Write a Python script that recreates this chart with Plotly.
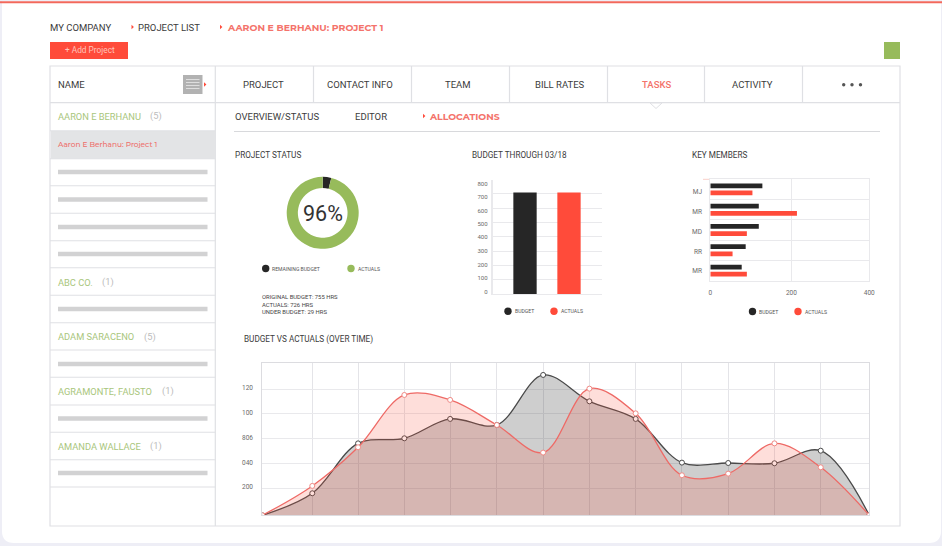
import plotly.graph_objects as go

W, H = 942, 546
# ---------- data ----------
donut_labels = ["REMAINING BUDGET", "ACTUALS"]
donut_values = [29, 726]
bar_cats = ["BUDGET", "ACTUALS"]
bar_values = [710, 710]
bar_tick_text = ["0", "100", "200", "300", "400", "500", "600", "700", "800"]
bar_tick_pos = [19, 112, 205, 300, 398, 491, 584, 677, 772]
bar_grid = [0, 100, 200, 300, 400, 500, 600, 700, 800]
members = ["MJ", "MR", "MD", "RR", "MR"]
member_tick_pos = [0.126, 1.11, 2.09, 3.06, 4.03]
member_budget = [131, 122, 122, 89, 79]
member_actuals = [106, 218, 92, 56, 92]
member_axis_text = ["0", "200", "400"]
member_axis_pos = [0, 204, 400]
time_x = [0, 1.08, 2.07, 3.07, 4.06, 5.07, 6.07, 7.07, 8.07, 9.07, 10.07, 11.07, 12.07, 13.12]
time_budget = [0, 174, 568, 608, 761, 713, 1108, 900, 761, 416, 413, 411, 510, 0]
time_actuals = [0, 232, 537, 950, 911, 713, 495, 1000, 805, 316, 329, 568, 379, 0]
time_tick_text = ["200", "040", "806", "100", "120"]
time_tick_pos = [215, 410, 608, 805, 997]
tabs = ["PROJECT", "CONTACT INFO", "TEAM", "BILL RATES", "TASKS", "ACTIVITY"]
sidebar = [("AARON E BERHANU", "(5)", 116, 150), ("ABC CO.", "(1)", 282, 102),
           ("ADAM SARACENO", "(5)", 336.6, 144), ("AGRAMONTE, FAUSTO", "(1)", 391, 162),
           ("AMANDA WALLACE", "(1)", 446, 150)]

BLACK, RED, GREEN = "#262626", "#ff4b3a", "#97bb5b"
LINE, TXT, TICK = "#dfe0e4", "#3c3c3c", "#6a6a6a"
SOFTRED = "#f4736b"
F = "Roboto"
HEAD = "Montserrat, Lato, 'Open Sans', sans-serif"

def X(p): return p / W
def Y(p): return 1 - p / H

shapes, notes = [], []

def rect(x0, y0, x1, y1, fill=None, line=None, lw=1):
    shapes.append(dict(type="rect", xref="paper", yref="paper", layer="below",
                       x0=X(x0), x1=X(x1), y0=Y(y0), y1=Y(y1),
                       fillcolor=fill or "rgba(0,0,0,0)",
                       line=dict(color=line or "rgba(0,0,0,0)", width=lw if line else 0)))

def hline(x0, x1, y, c=LINE, lw=1):
    shapes.append(dict(type="line", xref="paper", yref="paper", layer="below",
                       x0=X(x0), x1=X(x1), y0=Y(y), y1=Y(y), line=dict(color=c, width=lw)))

def vline(x, y0, y1, c=LINE, lw=1):
    shapes.append(dict(type="line", xref="paper", yref="paper", layer="below",
                       x0=X(x), x1=X(x), y0=Y(y0), y1=Y(y1), line=dict(color=c, width=lw)))

def dot(cx, cy, c, r=3.7):
    shapes.append(dict(type="circle", xref="paper", yref="paper", layer="below",
                       x0=X(cx - r), x1=X(cx + r), y0=Y(cy - r), y1=Y(cy + r),
                       fillcolor=c, line=dict(width=0)))

def tri(x, y, c=RED):
    shapes.append(dict(type="path", xref="paper", yref="paper", layer="below",
                       path=f"M {X(x)} {Y(y-2.2)} L {X(x+2.4)} {Y(y)} L {X(x)} {Y(y+2.2)} Z",
                       fillcolor=c, line=dict(width=0)))

def text(x, y, s, size=9.5, c=TXT, anchor="left", font=F, weight=None):
    fnt = dict(family=font, size=size, color=c)
    if weight:
        fnt["weight"] = weight
    notes.append(dict(xref="paper", yref="paper", x=X(x), y=Y(y), text=s, showarrow=False,
                      xanchor=anchor, yanchor="middle", font=fnt, borderpad=0, borderwidth=0))

# ---------- card ----------
r = 12
L, R, T, B = 2, 941, 1, 543
card = (f"M {X(L)} {Y(T)} L {X(R)} {Y(T)} L {X(R)} {Y(B-r)} Q {X(R)} {Y(B)} {X(R-r)} {Y(B)} "
        f"L {X(L+r)} {Y(B)} Q {X(L)} {Y(B)} {X(L)} {Y(B-r)} Z")
shapes.append(dict(type="path", xref="paper", yref="paper", layer="below", path=card,
                   fillcolor="#ffffff", line=dict(width=0)))
hline(0, W, 2.2, "#f2685c", 2)

# ---------- breadcrumbs ----------
text(50, 27, "MY COMPANY")
tri(131.5, 27)
text(138, 27, "PROJECT LIST")
tri(220, 27)
text(227, 27, "AARON E BERHANU: PROJECT 1", 9.4, SOFTRED, font=HEAD, weight=700)
rect(50, 42, 128, 59, RED)
text(89.5, 50.3, "+ Add Project", 8.3, "#ffc4bb", "center")
rect(884, 42, 900, 59, GREEN)

# ---------- frame ----------
rect(50, 66, 900, 526, None, LINE, 1.2)
vline(215.3, 66, 526, LINE, 1.2)
hline(50, 900, 102.7, LINE, 1.2)
for x in [313.5, 411.5, 509.5, 607.5, 704.5, 802.5]:
    vline(x, 66, 102.7, LINE, 1.2)
shapes.append(dict(type="path", xref="paper", yref="paper", layer="below",
                   path=f"M {X(650)} {Y(103)} L {X(656)} {Y(108.5)} L {X(662)} {Y(103)} Z",
                   fillcolor="#ffffff", line=dict(color=LINE, width=1)))
tab_cx = [263, 360, 458, 560, 656, 752]
for s, cx in zip(tabs, tab_cx):
    if s == "TASKS":
        text(cx, 84, s, 9.5, SOFTRED, "center", weight=500)
    else:
        text(cx, 84, s, 9.5, TXT, "center")
for cx in [843.7, 852, 860.5]:
    dot(cx, 84.8, "#555555", 1.7)

text(58, 84, "NAME")
rect(183, 75, 202.5, 94, "#b2b2b2")
for yy in [79.5, 82.5, 85.5, 88.5]:
    hline(186, 199.5, yy, "#dedede", 1)
tri(204, 84.5)

# sidebar
rows = [130.7, 158.7, 185.7, 213.3, 240.7, 267.7, 295.3, 322.7, 350, 377.3, 405, 432.3, 459.7, 487]
rect(51, 131, 215, 158.7, "#e3e4e6")
for y in rows:
    hline(50, 215.3, y, LINE, 1.1)
for y in [172, 199.5, 227, 254, 309, 364, 418.5, 473]:
    rect(58, y - 2.3, 207.5, y + 2.3, "#d2d2d3")
for name, cnt, y, cx in sidebar:
    text(58, y, name, 9.3, "#a9c67c")
    text(cx, y, cnt, 9.3, "#bcbcbc")
text(58, 144.3, "Aaron E Berhanu: Project 1", 7.4, "#ee6f6c", font=HEAD, weight=500)

# sub tabs
text(234.5, 116, "OVERVIEW/STATUS", 9.5)
text(355, 116, "EDITOR", 9.5)
tri(423, 116)
text(429, 116, "ALLOCATIONS", 9.3, SOFTRED, font=HEAD, weight=700)
hline(234, 880, 131.5, "#d8d9dc", 1.1)

# section titles
text(234.5, 155.3, "PROJECT STATUS", 8.2)
text(471.5, 155.3, "BUDGET THROUGH 03/18", 8.2)
text(692, 155.3, "KEY MEMBERS", 8.2)
text(243.5, 339.5, "BUDGET VS ACTUALS (OVER TIME)", 8.2)

# legends
dot(265.7, 268.5, BLACK)
text(272, 268.5, "REMAINING BUDGET", 5.1, "#555555")
dot(351, 268.5, GREEN)
text(358, 268.5, "ACTUALS", 5.1, "#555555")
for i, s in enumerate(["ORIGINAL BUDGET: 755 HRS", "ACTUALS: 726 HRS", "UNDER BUDGET: 29 HRS"]):
    text(262, 297 + i * 7.5, s, 5.9, "#444444")
dot(508, 311.3, BLACK); text(514.5, 311.3, "BUDGET", 5.1, "#555555")
dot(554, 311.3, RED); text(561, 311.3, "ACTUALS", 5.1, "#555555")
dot(752.5, 311.5, BLACK); text(759, 311.5, "BUDGET", 5.1, "#555555")
dot(798, 311.5, RED); text(805, 311.5, "ACTUALS", 5.1, "#555555")
hline(703, 710, 179.3, "#f9cfc8", 1)

text(323, 213.5, "96%", 21.5, "#333333", "center")

# ---------- traces ----------
fig = go.Figure()
fig.add_trace(go.Pie(labels=donut_labels, values=donut_values, hole=0.69, sort=False,
                     direction="clockwise", rotation=0, textinfo="none", showlegend=False,
                     marker=dict(colors=[BLACK, GREEN], line=dict(width=0)),
                     domain=dict(x=[X(286.7), X(358.7)], y=[Y(249), Y(176.7)])))

# budget bars
fig.add_trace(go.Bar(x=bar_cats, y=bar_values, width=0.53, marker=dict(color=[BLACK, RED], line=dict(width=0)),
                     showlegend=False, xaxis="x", yaxis="y"))

# key members
y_pos = list(range(len(members)))
fig.add_trace(go.Bar(y=y_pos, x=member_budget, orientation="h", name="BUDGET", marker=dict(color=BLACK, line=dict(width=0)),
                     showlegend=False, xaxis="x2", yaxis="y2"))
fig.add_trace(go.Bar(y=y_pos, x=member_actuals, orientation="h", name="ACTUALS", marker=dict(color=RED, line=dict(width=0)),
                     showlegend=False, xaxis="x2", yaxis="y2"))

# time series
fig.add_trace(go.Scatter(x=time_x, y=time_budget, name="BUDGET", mode="lines+markers", fill="tozeroy",
                         fillcolor="rgba(45,45,45,0.23)", line=dict(color="#4a4a4a", width=1.3, shape="spline", smoothing=1),
                         marker=dict(size=5, color="#ffffff", line=dict(color="#4a4a4a", width=1)),
                         showlegend=False, xaxis="x3", yaxis="y3"))
fig.add_trace(go.Scatter(x=time_x, y=time_actuals, name="ACTUALS", mode="lines+markers", fill="tozeroy",
                         fillcolor="rgba(250,80,60,0.19)", line=dict(color="#ee6a66", width=1.3, shape="spline", smoothing=1),
                         marker=dict(size=5, color="#ffffff", line=dict(color="#f08a85", width=1)),
                         showlegend=False, xaxis="x3", yaxis="y3"))

GRID = "#e9e9ec"
fig.update_layout(
    width=W, height=H, margin=dict(l=0, r=0, t=0, b=0), autosize=False,
    paper_bgcolor="#eeeef6", plot_bgcolor="rgba(0,0,0,0)", shapes=shapes, annotations=notes,
    barmode="group", bargap=0.3, bargroupgap=0.33, font=dict(family=F),
    # budget chart
    xaxis=dict(domain=[X(492.5), X(602)], range=[-0.739, 1.75], type="category", showticklabels=False, ticks="",
               automargin=False, showgrid=False, zeroline=False, showline=True, linecolor=GRID, linewidth=1, fixedrange=True),
    yaxis=dict(domain=[Y(294.3), Y(179.5)], range=[0, 800], anchor="x", tickmode="array", automargin=False,
               tickvals=bar_tick_pos, ticktext=bar_tick_text, tickfont=dict(size=6, color=TICK), ticks="",
               ticklabelstandoff=2, showgrid=False, zeroline=False, showline=True, linecolor=GRID, linewidth=1.5,
               minor=dict(tickmode="array", tickvals=bar_grid, showgrid=True, gridcolor=GRID, gridwidth=1, ticks=""),
               fixedrange=True),
    # key members chart
    xaxis2=dict(domain=[X(710.3), X(869.3)], range=[0, 400], anchor="y2", tickmode="array", tickvals=member_axis_pos,
                ticktext=member_axis_text, ticklabelstandoff=5,
                automargin=False, tickfont=dict(size=6.5, color=TICK), ticks="", showgrid=True, gridcolor=GRID, zeroline=False,
                showline=True, mirror=True, linecolor=GRID, fixedrange=True),
    yaxis2=dict(domain=[Y(280.7), Y(179.3)], range=[4.5, -0.5], anchor="x2", tickmode="array", tickvals=member_tick_pos, ticktext=members,
                automargin=False, tickfont=dict(size=6.5, color=TICK), ticks="", ticklabelstandoff=6, showgrid=False, zeroline=False,
                showline=True, linecolor=GRID, mirror=True,
                minor=dict(tickmode="array", tickvals=[0.5, 1.5, 2.5, 3.5], showgrid=True, gridcolor=GRID, ticks=""),
                fixedrange=True),
    # time chart
    xaxis3=dict(domain=[X(262.3), X(869.3)], range=[0, 13.12], anchor="y3", tickmode="array", tickvals=time_x,
                automargin=False, showticklabels=False, ticks="", showgrid=True, gridcolor="#e4e4e8", zeroline=False,
                showline=True, linecolor="#dcdce0", mirror=True, fixedrange=True),
    yaxis3=dict(domain=[Y(515.3), Y(363.3)], range=[0, 1200], anchor="x3", tickmode="array", tickvals=time_tick_pos,
                automargin=False, ticktext=time_tick_text, tickfont=dict(size=6.5, color=TICK), ticks="", ticklabelstandoff=7,
                ticklabelshift=-1, showgrid=True, gridcolor="#e9e9ec", zeroline=False, showline=True, linecolor="#dcdce0", mirror=True,
                fixedrange=True),
)

fig.write_html("out.html", config=dict(displayModeBar=False),
               post_script="document.body.style.margin='0';document.body.style.overflow='hidden';")
